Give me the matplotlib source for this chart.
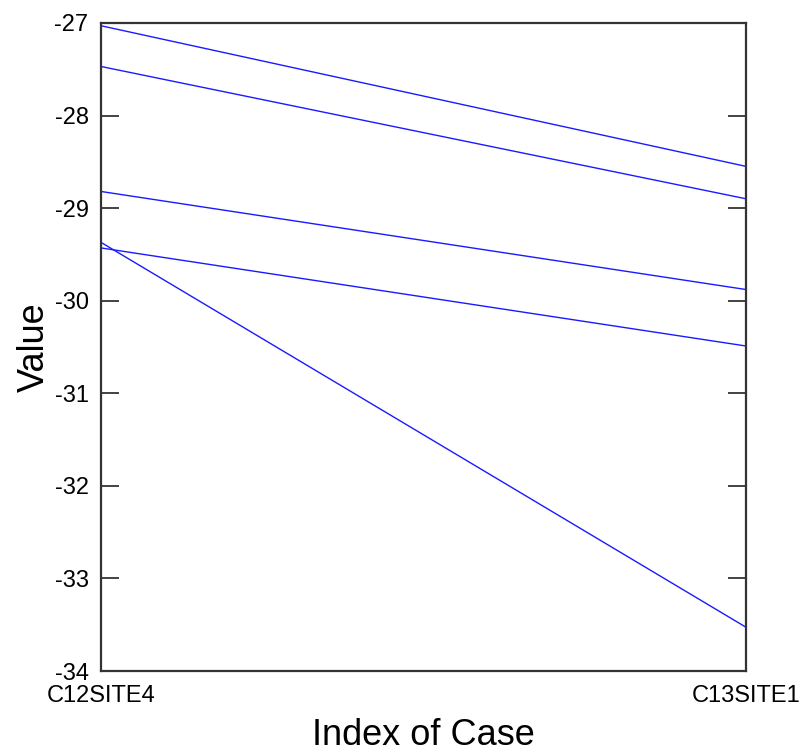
import matplotlib.pyplot as plt

plt.rcParams['font.family'] = ['Liberation Sans', 'DejaVu Sans']

cases = ['C12SITE4', 'C13SITE1']
line_a = [-27.03, -28.55]
line_b = [-27.47, -28.90]
line_c = [-28.82, -29.88]
line_d = [-29.43, -30.49]
line_e = [-29.37, -33.53]
yticks = [-34, -33, -32, -31, -30, -29, -28, -27]

fig = plt.figure(figsize=(8.05, 7.56), dpi=100)
ax = fig.add_axes([0.1255, 0.1124, 0.8018, 0.8572])

x = list(range(len(cases)))
for vals in [line_a, line_b, line_c, line_d, line_e]:
    ax.plot(x, vals, color='#1a1aff', lw=1.0)

ax.set_xlim(0, 1)
ax.set_ylim(-34, -27)
ax.set_yticks(yticks)
ax.set_yticklabels([str(t) for t in yticks])
ax.set_xticks(x)
ax.set_xticklabels(cases)

ax.tick_params(axis='y', direction='in', length=13, width=1.2, color='#222222',
               labelsize=17, pad=9, right=True)
ax.tick_params(axis='x', length=0, labelsize=17, pad=10)
for sp in ax.spines.values():
    sp.set_linewidth(1.6)
    sp.set_color('#333333')

ax.set_xlabel('Index of Case', fontsize=26, labelpad=8)
ax.set_ylabel('Value', fontsize=26, labelpad=2)

fig.savefig('out.png', dpi=100)
